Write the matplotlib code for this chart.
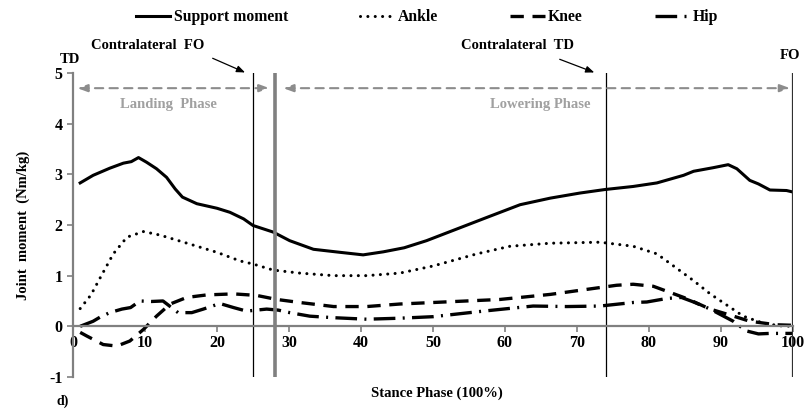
import matplotlib
matplotlib.use("Agg")
import matplotlib.pyplot as plt

plt.rcParams["font.family"] = ["Liberation Serif", "DejaVu Serif"]
plt.rcParams["font.weight"] = "bold"
plt.rcParams["axes.labelweight"] = "bold"
plt.rcParams["axes.unicode_minus"] = False

# ---------------- DATA ----------------
support_x = [1, 2.8, 5.1, 7, 8.1, 9.1, 10.2, 11.6, 13, 14.2, 15.2, 17.2, 20, 21.8, 23.7, 25,
             27.8, 30.1, 33.4, 37.1, 40.3, 43.1, 46, 49.1, 53.3, 57.5, 62.1, 66.3, 70.4, 73.9,
             77.8, 81.1, 84.8, 86.2, 88.9, 91, 92.2, 94, 95.2, 96.8, 99.1, 100]
support_y = [2.83, 2.98, 3.12, 3.22, 3.25, 3.33, 3.24, 3.11, 2.94, 2.71, 2.55, 2.42, 2.33, 2.25,
             2.12, 1.99, 1.86, 1.69, 1.52, 1.46, 1.41, 1.47, 1.55, 1.69, 1.92, 2.15, 2.40, 2.53,
             2.63, 2.70, 2.76, 2.83, 2.98, 3.06, 3.13, 3.19, 3.11, 2.88, 2.81, 2.69, 2.68, 2.65]

ankle_x = [1, 2.5, 3.75, 5.6, 7.5, 9.8, 12.1, 16.3, 20, 23.2, 25, 27.8, 31.5, 36.2, 40.8, 45.4,
           50, 56.1, 60.7, 66.3, 73.2, 77.8, 81.1, 83.8, 86.2, 88.5, 90.8, 93.1, 95.9, 98.2, 100]
ankle_y = [0.35, 0.62, 0.95, 1.43, 1.76, 1.87, 1.80, 1.62, 1.46, 1.29, 1.23, 1.11, 1.05, 1.00,
           1.00, 1.05, 1.19, 1.43, 1.58, 1.64, 1.66, 1.58, 1.43, 1.15, 0.90, 0.64, 0.42, 0.20,
           0.06, 0.01, 0.0]

knee_x = [1, 1.9, 4.2, 6.1, 7.9, 9.8, 11.6, 13.5, 15.8, 18.6, 22.3, 25.5, 28.3, 31.5, 36.2, 40.8,
          45.4, 50, 59.3, 66.3, 70.9, 75.5, 77.8, 80.6, 82.9, 85.2, 88.5, 91.3, 94, 97.7, 100]
knee_y = [-0.12, -0.19, -0.36, -0.39, -0.29, -0.06, 0.20, 0.44, 0.57, 0.62, 0.64, 0.61, 0.53,
          0.47, 0.39, 0.39, 0.44, 0.47, 0.53, 0.63, 0.72, 0.81, 0.83, 0.79, 0.67, 0.55, 0.34,
          0.22, 0.10, 0.03, 0.02]

hip_x = [1, 2.8, 3.75, 5.1, 6.8, 8, 9.3, 10.9, 12.5, 14.6, 16.5, 18.1, 20.4, 22.3, 24.1, 26.9,
         28.5, 30.1, 32.9, 36.2, 40.8, 45.4, 50, 57, 63.9, 68.6, 73.2, 77.8, 79.7, 82.5, 84.5,
         86.2, 88.5, 91.7, 93.5, 95.2, 96.8, 100]
hip_y = [0.0, 0.10, 0.18, 0.27, 0.34, 0.37, 0.50, 0.49, 0.50, 0.27, 0.27, 0.34, 0.45, 0.37, 0.30,
         0.34, 0.32, 0.27, 0.20, 0.17, 0.14, 0.16, 0.19, 0.30, 0.40, 0.39, 0.40, 0.47, 0.48,
         0.55, 0.57, 0.48, 0.34, 0.10, -0.09, -0.15, -0.14, -0.14]

x_ticks = [0, 10, 20, 30, 40, 50, 60, 70, 80, 90, 100]
y_ticks = [-1, 0, 1, 2, 3, 4, 5]

# gait events (% stance)
contra_fo = 25
phase_split = 28
contra_td = 74
foot_off = 100


def main():
    fig = plt.figure(figsize=(8.1, 4.16), dpi=100)
    ax = fig.add_axes([0.0901, 0.0938, 0.8889, 0.7308])

    # ---------------- CURVES ----------------
    ax.plot(support_x, support_y, color="black", lw=2.2, label="Support moment")
    ax.plot(ankle_x, ankle_y, color="black", lw=2.2, ls=(0, (0.01, 2.4)),
            dash_capstyle="round", label="Ankle")
    ax.plot(knee_x, knee_y, color="black", lw=2.4, ls=(0, (4.0, 2.6)), label="Knee")
    ax.plot(hip_x, hip_y, color="black", lw=2.4, ls=(0, (6.5, 2.2, 0.6, 2.2)), label="Hip")

    # ---------------- EVENT LINES ----------------
    ax.axvline(contra_fo, color="black", lw=0.9)
    ax.axvline(phase_split, color="#808080", lw=2.6)
    ax.axvline(contra_td, color="black", lw=0.9)
    ax.axvline(foot_off, color="#303030", lw=1.6)

    # ---------------- PHASE ARROWS ----------------
    grey = "#8c8c8c"
    for x0, x1 in [(0.6, 27.3), (29.2, 99.6)]:
        ax.annotate("", xy=(x1, 4.7), xytext=(x0, 4.7),
                    arrowprops=dict(arrowstyle="<|-|>,head_length=0.6,head_width=0.22",
                                    color=grey, lw=1.5, ls=(0, (4, 3)),
                                    shrinkA=0, shrinkB=0))
    ax.text(13.2, 4.38, "Landing  Phase", color="#a0a0a0", fontsize=10.5,
            ha="center", va="center")
    ax.text(64.9, 4.38, "Lowering Phase", color="#a0a0a0", fontsize=10.5,
            ha="center", va="center")

    # ---------------- EVENT LABELS ----------------
    ax.text(-0.4, 5.27, "TD", fontsize=10.5, ha="center", va="center")
    ax.text(99.6, 5.35, "FO", fontsize=10.5, ha="center", va="center")
    ax.text(10.4, 5.55, "Contralateral  FO", fontsize=10.5, ha="center", va="center")
    ax.text(61.8, 5.55, "Contralateral  TD", fontsize=10.5, ha="center", va="center")
    arrow_kw = dict(arrowstyle="-|>,head_length=0.5,head_width=0.2",
                    color="black", lw=0.9, shrinkA=0, shrinkB=0)
    ax.annotate("", xy=(23.9, 5.01), xytext=(19.4, 5.29), annotation_clip=False,
                arrowprops=arrow_kw)
    ax.annotate("", xy=(72.4, 5.01), xytext=(67.6, 5.27), annotation_clip=False,
                arrowprops=arrow_kw)

    # ---------------- AXES ----------------
    ax.set_xlim(0, 100)
    ax.set_ylim(-1, 5)
    ax.spines["top"].set_visible(False)
    ax.spines["right"].set_visible(False)
    ax.spines["bottom"].set_position(("data", 0))
    for side in ("left", "bottom"):
        ax.spines[side].set_color("#808080")
        ax.spines[side].set_linewidth(1.6)
    ax.set_xticks(x_ticks)
    ax.set_yticks(y_ticks)
    ax.tick_params(axis="both", direction="out", color="#808080", width=1.2, length=4,
                   labelsize=11.5)
    ax.tick_params(axis="x", pad=2)
    ax.set_xlabel("Stance Phase (100%)", fontsize=10.5)
    ax.set_ylabel("Joint  moment  (Nm/kg)", fontsize=10.5, labelpad=14)
    ax.xaxis.set_label_coords(0.505, -0.03)

    fig.text(0.077, 0.035, "d)", fontsize=10, ha="center", va="center")

    # ---------------- LEGEND ----------------
    fig.legend(loc="upper center", bbox_to_anchor=(0.527, 1.012), ncol=4, frameon=False,
               fontsize=11.3, handlelength=2.2, handletextpad=0.2, columnspacing=4.6)

    fig.savefig("out.png", dpi=100)
    plt.close(fig)


if __name__ == "__main__":
    main()
